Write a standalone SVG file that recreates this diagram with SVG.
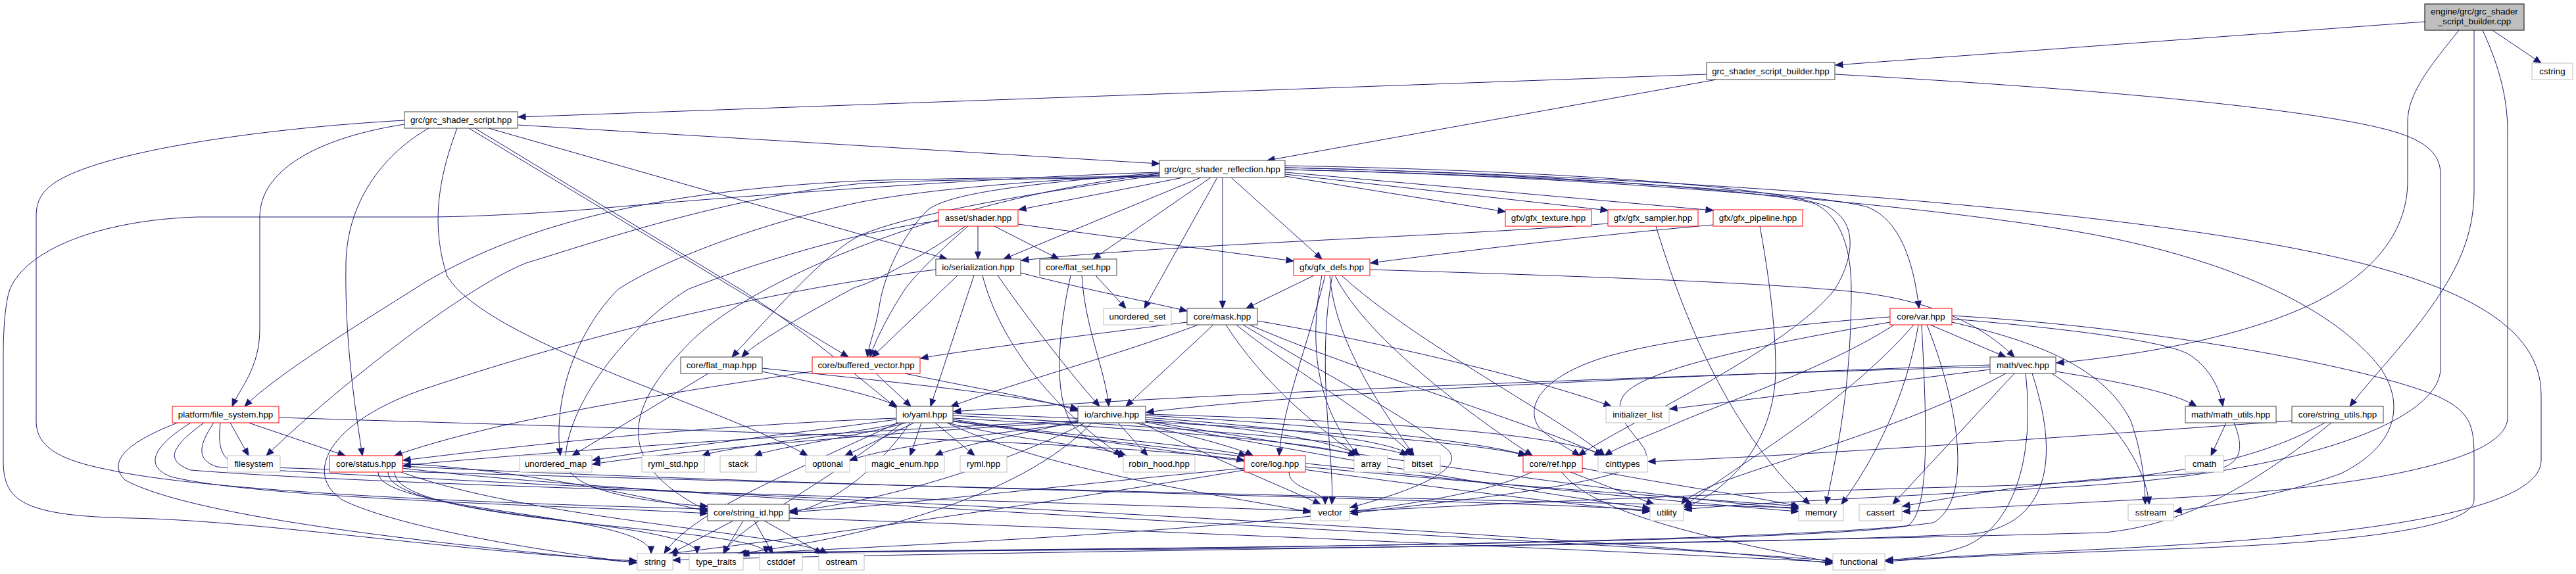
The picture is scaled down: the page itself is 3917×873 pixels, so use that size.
<svg xmlns="http://www.w3.org/2000/svg" width="3917" height="873" viewBox="0 0 3917 873">
<style>
.e{fill:none;stroke:#191970;stroke-width:1;marker-end:url(#ah)}
.nk{fill:#fff;stroke:#404040;stroke-width:1}
.nr{fill:#fff;stroke:#ff0000;stroke-width:1}
.ng{fill:#fff;stroke:#bfbfbf;stroke-width:1}
.nroot{fill:#bfbfbf;stroke:#000;stroke-width:1}
text{font-family:"Liberation Sans",Arial,sans-serif;font-size:13.33px;text-anchor:middle;fill:#000}
</style>
<defs>
<marker id="ah" markerUnits="userSpaceOnUse" markerWidth="12" markerHeight="10" refX="11" refY="5" orient="auto" overflow="visible"><path d="M0,0.5 L11,5 L0,9.5 z" fill="#191970" stroke="#191970" stroke-width="1"/></marker>
</defs>
<rect width="3917" height="873" fill="#fff"/>
<g id="edges">
<path class="e" d="M3687,33 L2791,99"/>
<path class="e" d="M3790,46 L3864,96"/>
<path class="e" d="M3739,46 C3700,95 3661,140 3661,185 L3661,275 C3661,360 3600,420 3520,460 C3420,510 3260,540 3127,552"/>
<path class="e" d="M3762,46 L3762,290 C3762,360 3735,410 3705,455 C3665,515 3610,570 3573,618"/>
<path class="e" d="M3775,46 C3795,90 3813,140 3813,200 L3813,635 C3813,700 3600,745 3250,760 C3100,768 2960,775 2893,778"/>
<path class="e" d="M2595,113 L788,178"/>
<path class="e" d="M2610,121 L1927,244"/>
<path class="e" d="M2790,113 C3100,130 3500,160 3640,200 C3690,215 3711,235 3711,265 L3711,560 C3711,640 3500,720 3150,740 C2900,755 2650,765 2561,775"/>
<path class="e" d="M787,190 L1763,249"/>
<path class="e" d="M615,189 C480,210 395,260 395,330 L395,500 C395,560 365,590 353,618"/>
<path class="e" d="M652,195 C590,230 528,300 526,400 C524,520 540,620 551,693"/>
<path class="e" d="M743,195 L1440,394"/>
<path class="e" d="M713,195 L1290,543"/>
<path class="e" d="M695,195 C675,250 650,330 680,420 C740,520 1100,620 1228,693"/>
<path class="e" d="M722,195 L1126,440 C1220,500 1300,570 1363,620"/>
<path class="e" d="M615,183 C400,195 150,230 80,280 C60,295 55,310 55,330 L55,640 C55,680 90,700 168,715 C300,745 700,765 1076,774"/>
<path class="e" d="M1799,270 L1549,319"/>
<path class="e" d="M1954,268 L2289,322"/>
<path class="e" d="M1954,265 L2445,320"/>
<path class="e" d="M1954,262 L2605,320"/>
<path class="e" d="M1826,270 L1526,394"/>
<path class="e" d="M1841,270 L1662,394"/>
<path class="e" d="M1872,270 L2010,394"/>
<path class="e" d="M1859,270 L1859,469"/>
<path class="e" d="M1954,258 C2300,265 2750,290 2840,315 C2890,335 2910,400 2918,469"/>
<path class="e" d="M1954,255 C2300,262 2700,290 2760,310 C2800,330 2815,380 2815,440 C2815,600 2790,700 2777,767"/>
<path class="e" d="M1954,252 C2300,258 2700,280 2780,315 C2830,340 2815,400 2790,440 C2720,530 2480,640 2400,693"/>
<path class="e" d="M1851,270 L1740,469"/>
<path class="e" d="M1763,266 C1600,290 1400,320 1310,357 C1260,380 1180,470 1113,543"/>
<path class="e" d="M1763,263 C1550,280 1440,295 1410,320 C1370,360 1345,420 1338,460 C1332,500 1322,520 1319,543"/>
<path class="e" d="M1763,268 C1550,270 1400,272 1310,275 C1000,290 800,340 650,427 C550,490 420,570 372,618"/>
<path class="e" d="M1763,270 C1550,272 1400,274 1310,279 C1100,300 900,370 800,400 C700,440 500,600 405,693"/>
<path class="e" d="M1763,262 C1500,270 1100,300 900,318 C800,326 700,330 650,330 L300,330 C150,335 40,380 15,440 C8,460 5,500 5,540 L5,700 C5,760 30,785 200,788 C400,792 700,840 968,853"/>
<path class="e" d="M1763,266 C1550,275 1400,290 1310,307 C1150,340 1000,400 940,440 C880,500 840,600 852,693"/>
<path class="e" d="M1954,258 C2500,270 3000,320 3200,360 C3400,400 3550,470 3620,560 C3660,620 3640,680 3560,720 C3450,760 3350,770 3306,778"/>
<path class="e" d="M1954,255 C2600,270 3200,320 3500,380 C3700,420 3864,480 3864,600 L3864,700 C3864,790 3500,820 3200,835 C3050,842 2950,848 2867,852"/>
<path class="e" d="M1763,264 C1450,300 1150,420 1050,520 C960,610 920,700 1076,777"/>
<path class="e" d="M1487,344 L1487,394"/>
<path class="e" d="M1512,344 L1610,394"/>
<path class="e" d="M1548,341 L1967,397"/>
<path class="e" d="M1468,344 C1420,380 1330,430 1300,437 C1220,480 1150,520 1128,543"/>
<path class="e" d="M1472,344 C1430,380 1390,420 1376,440 C1350,480 1330,520 1323,543"/>
<path class="e" d="M1427,336 C1350,345 1200,380 1046,440 C950,500 860,620 860,700 C860,750 1000,765 1076,770"/>
<path class="e" d="M1552,415 C1650,440 1750,460 1805,473"/>
<path class="e" d="M1481,419 L1415,618"/>
<path class="e" d="M1517,419 C1560,480 1620,560 1672,618"/>
<path class="e" d="M1456,419 L1326,543"/>
<path class="e" d="M1494,419 C1520,520 1600,620 1705,693"/>
<path class="e" d="M1423,410 C1100,450 800,540 650,590 C500,640 460,720 520,760 C600,800 800,835 968,856"/>
<path class="e" d="M1666,419 L1712,469"/>
<path class="e" d="M1645,419 C1650,500 1680,560 1686,618"/>
<path class="e" d="M1628,419 C1610,500 1600,600 1630,645 C1660,680 1695,690 1712,693"/>
<path class="e" d="M1998,419 L1895,469"/>
<path class="e" d="M2083,410 C2400,420 2700,430 2830,445 C2950,460 3020,500 3063,543"/>
<path class="e" d="M2010,419 C1990,520 2000,620 2066,693"/>
<path class="e" d="M2022,419 C2030,520 2100,620 2150,693"/>
<path class="e" d="M2030,419 C2080,520 2250,640 2330,693"/>
<path class="e" d="M2040,419 C2150,520 2380,640 2440,693"/>
<path class="e" d="M2026,419 C2000,560 2030,700 2025,767"/>
<path class="e" d="M2015,419 C1990,520 1950,620 1945,693"/>
<path class="e" d="M2445,340 C2200,360 1800,370 1553,396"/>
<path class="e" d="M2518,344 C2550,450 2620,650 2752,767"/>
<path class="e" d="M2605,342 C2400,360 2200,385 2084,400"/>
<path class="e" d="M2676,344 C2690,420 2700,500 2700,560 C2700,680 2620,750 2561,772"/>
<path class="e" d="M1805,490 C1650,510 1450,535 1400,545"/>
<path class="e" d="M1822,494 C1700,540 1550,580 1446,618"/>
<path class="e" d="M1845,494 L1712,618"/>
<path class="e" d="M1912,488 C2100,520 2350,580 2450,618"/>
<path class="e" d="M1864,494 C1920,580 1990,640 2064,693"/>
<path class="e" d="M1880,494 C1960,560 2100,640 2148,693"/>
<path class="e" d="M1900,494 C2050,560 2350,650 2436,693"/>
<path class="e" d="M1890,494 C2000,560 2150,640 2200,683 C2225,705 2190,735 2053,772"/>
<path class="e" d="M2935,494 L3050,543"/>
<path class="e" d="M2968,485 C3150,500 3300,520 3330,540 C3360,560 3375,590 3380,618"/>
<path class="e" d="M2874,482 C2700,495 2500,520 2420,550 C2340,580 2320,620 2340,650 C2360,670 2390,685 2402,693"/>
<path class="e" d="M2874,490 C2700,520 2500,560 2470,600 C2440,640 2520,680 2500,700 C2450,740 2200,762 2053,781"/>
<path class="e" d="M2880,494 C2780,560 2600,620 2540,648 C2500,665 2460,680 2440,693"/>
<path class="e" d="M2917,494 C2900,600 2850,700 2800,767"/>
<path class="e" d="M2922,494 C2930,650 2935,780 2900,800 C2700,830 1500,835 1016,842"/>
<path class="e" d="M2930,494 C2980,620 3000,760 2940,795 C2700,830 1500,836 1122,842"/>
<path class="e" d="M2910,494 C2800,620 2650,700 2561,770"/>
<path class="e" d="M2968,490 C3100,520 3200,560 3240,640 C3258,690 3262,740 3262,767"/>
<path class="e" d="M2968,480 C3300,500 3600,560 3700,600 C3760,625 3762,650 3762,700 L3762,760 C3762,800 3600,825 3300,835 C3100,842 2950,848 2867,854"/>
<path class="e" d="M1077,568 L870,693"/>
<path class="e" d="M1159,560 C1350,580 1550,600 1639,622"/>
<path class="e" d="M1159,565 C1250,585 1330,600 1364,618"/>
<path class="e" d="M1332,568 L1385,618"/>
<path class="e" d="M1376,568 C1480,590 1600,610 1639,625"/>
<path class="e" d="M1235,565 C1000,600 750,640 600,693"/>
<path class="e" d="M3126,565 C3250,585 3310,600 3340,618"/>
<path class="e" d="M3026,555 C2600,570 2000,595 1743,627"/>
<path class="e" d="M3026,558 C2500,572 1800,600 1450,626"/>
<path class="e" d="M3026,562 C2800,590 2600,615 2539,622"/>
<path class="e" d="M3063,568 L2878,767"/>
<path class="e" d="M3120,568 C3200,620 3262,700 3268,767"/>
<path class="e" d="M3080,568 C3095,700 3060,800 2990,830 C2950,845 2900,850 2867,852"/>
<path class="e" d="M3090,568 C3140,720 3100,800 3000,812 C2500,835 1500,835 1125,842"/>
<path class="e" d="M3050,568 C2900,650 2700,700 2600,740 C2575,752 2562,760 2557,767"/>
<path class="e" d="M350,643 L378,693"/>
<path class="e" d="M378,643 L525,693"/>
<path class="e" d="M270,643 C200,670 160,700 190,730 C300,790 700,830 968,856"/>
<path class="e" d="M290,643 C230,680 220,710 260,725 C400,760 900,770 1076,781"/>
<path class="e" d="M310,643 C260,680 250,700 290,715 C600,740 1500,760 1993,777"/>
<path class="e" d="M325,643 C300,680 300,700 330,710 C800,740 2300,800 2787,857"/>
<path class="e" d="M335,643 C330,690 340,705 380,710 C1000,730 2200,760 2735,772"/>
<path class="e" d="M424,635 C900,650 1700,670 1892,700"/>
<path class="e" d="M1363,636 C1000,650 700,690 613,700"/>
<path class="e" d="M1363,638 C1200,660 950,690 901,700"/>
<path class="e" d="M1370,643 C1300,660 1100,680 1068,693"/>
<path class="e" d="M1378,643 C1300,665 1180,680 1147,693"/>
<path class="e" d="M1390,643 L1285,693"/>
<path class="e" d="M1401,643 L1384,693"/>
<path class="e" d="M1422,643 L1482,693"/>
<path class="e" d="M1440,643 C1550,670 1680,680 1712,693"/>
<path class="e" d="M1449,640 C1600,660 1850,680 1895,693"/>
<path class="e" d="M1449,636 C1700,650 2000,670 2062,693"/>
<path class="e" d="M1449,632 C1700,645 2100,670 2140,693"/>
<path class="e" d="M1449,629 C1800,640 2250,670 2320,693"/>
<path class="e" d="M1384,643 C1330,720 1260,770 1201,780"/>
<path class="e" d="M1440,643 C1600,720 1900,760 1993,779"/>
<path class="e" d="M1365,643 C1200,720 1050,780 1010,842"/>
<path class="e" d="M1372,643 C1250,740 1120,800 1100,842"/>
<path class="e" d="M1449,641 C1900,700 2500,760 2735,778"/>
<path class="e" d="M1449,638 C1800,690 2300,760 2509,778"/>
<path class="e" d="M1639,640 C1200,660 800,690 613,708"/>
<path class="e" d="M1639,642 C1300,660 1000,690 901,706"/>
<path class="e" d="M1645,643 C1500,660 1350,680 1292,700"/>
<path class="e" d="M1700,643 L1745,693"/>
<path class="e" d="M1725,643 C1800,660 1880,680 1905,693"/>
<path class="e" d="M1742,638 C1900,650 2030,670 2068,693"/>
<path class="e" d="M1742,635 C1950,650 2120,670 2146,693"/>
<path class="e" d="M1742,632 C2000,645 2250,670 2322,693"/>
<path class="e" d="M1742,630 C2100,640 2380,660 2438,693"/>
<path class="e" d="M1650,643 C1500,720 1300,770 1201,777"/>
<path class="e" d="M1735,643 C1850,700 1950,740 2008,767"/>
<path class="e" d="M1742,640 C2100,700 2550,760 2735,774"/>
<path class="e" d="M1660,643 C1550,760 1300,820 1123,842"/>
<path class="e" d="M1742,642 C2100,710 2400,760 2509,773"/>
<path class="e" d="M1639,641 C1550,660 1450,680 1422,693"/>
<path class="e" d="M612,705 C800,715 1000,760 1076,778"/>
<path class="e" d="M575,718 C575,780 990,780 990,842"/>
<path class="e" d="M590,718 C590,790 1060,790 1060,842"/>
<path class="e" d="M600,718 C600,800 1165,800 1165,842"/>
<path class="e" d="M605,716 C800,790 1200,810 1258,842"/>
<path class="e" d="M612,712 C1000,760 2400,820 2787,853"/>
<path class="e" d="M612,709 C1200,740 2300,760 2509,776"/>
<path class="e" d="M1960,718 C1960,745 2015,745 2015,767"/>
<path class="e" d="M1892,712 C1600,740 1350,770 1201,779"/>
<path class="e" d="M1892,715 C1500,780 1200,820 1018,842"/>
<path class="e" d="M1985,710 C2300,740 2600,760 2735,770"/>
<path class="e" d="M2329,718 C2200,780 1800,810 1128,842"/>
<path class="e" d="M2375,718 C2420,780 2600,820 2787,855"/>
<path class="e" d="M2388,718 L2515,767"/>
<path class="e" d="M2406,712 C2550,740 2700,760 2736,771"/>
<path class="e" d="M1115,792 L1020,842"/>
<path class="e" d="M1130,792 L1100,842"/>
<path class="e" d="M1147,792 L1175,842"/>
<path class="e" d="M1162,792 L1250,842"/>
<path class="e" d="M1200,788 C1600,800 2500,840 2787,855"/>
<path class="e" d="M3485,640 C3200,660 2800,690 2506,702"/>
<path class="e" d="M3535,643 C3400,720 3200,735 3000,740 C2600,750 2200,770 2053,778"/>
<path class="e" d="M3545,643 C3400,760 3300,800 3200,810 C2500,830 1400,840 1023,852"/>
<path class="e" d="M3385,643 L3362,693"/>
<path class="e" d="M3397,643 C3420,700 3400,720 3300,722 C3100,730 2950,760 2893,770"/>
</g>
<g id="n_engine"><rect class="nroot" x="3687" y="6" width="151" height="40"/><text x="3762.5" y="22">engine/grc/grc_shader</text><text x="3762.5" y="37">_script_builder.cpp</text></g>
<g id="n_builder"><rect class="nk" x="2595" y="95" width="195" height="26"/><text x="2692.5" y="112.5">grc_shader_script_builder.hpp</text></g>
<g id="n_cstring"><rect class="ng" x="3850" y="96" width="62" height="25"/><text x="3881" y="113">cstring</text></g>
<g id="n_gss"><rect class="nk" x="615" y="170" width="172" height="25"/><text x="701" y="187">grc/grc_shader_script.hpp</text></g>
<g id="n_refl"><rect class="nk" x="1763" y="244" width="191" height="26"/><text x="1858.5" y="261.5">grc/grc_shader_reflection.hpp</text></g>
<g id="n_shader"><rect class="nr" x="1427" y="319" width="121" height="25"/><text x="1487.5" y="336">asset/shader.hpp</text></g>
<g id="n_texture"><rect class="nr" x="2289" y="319" width="131" height="25"/><text x="2354.5" y="336">gfx/gfx_texture.hpp</text></g>
<g id="n_sampler"><rect class="nr" x="2445" y="319" width="137" height="25"/><text x="2513.5" y="336">gfx/gfx_sampler.hpp</text></g>
<g id="n_pipeline"><rect class="nr" x="2605" y="319" width="136" height="25"/><text x="2673" y="336">gfx/gfx_pipeline.hpp</text></g>
<g id="n_ser"><rect class="nk" x="1423" y="394" width="129" height="25"/><text x="1487.5" y="411">io/serialization.hpp</text></g>
<g id="n_flatset"><rect class="nk" x="1581" y="394" width="117" height="25"/><text x="1639.5" y="411">core/flat_set.hpp</text></g>
<g id="n_gfxdefs"><rect class="nr" x="1967" y="394" width="116" height="25"/><text x="2025" y="411">gfx/gfx_defs.hpp</text></g>
<g id="n_uset"><rect class="ng" x="1678" y="469" width="103" height="25"/><text x="1729.5" y="486">unordered_set</text></g>
<g id="n_mask"><rect class="nk" x="1805" y="469" width="107" height="25"/><text x="1858.5" y="486">core/mask.hpp</text></g>
<g id="n_var"><rect class="nr" x="2874" y="469" width="94" height="25"/><text x="2921" y="486">core/var.hpp</text></g>
<g id="n_flatmap"><rect class="nk" x="1035" y="543" width="124" height="25"/><text x="1097" y="560">core/flat_map.hpp</text></g>
<g id="n_bvec"><rect class="nr" x="1235" y="543" width="164" height="25"/><text x="1317" y="560">core/buffered_vector.hpp</text></g>
<g id="n_vec"><rect class="nk" x="3026" y="543" width="100" height="25"/><text x="3076" y="560">math/vec.hpp</text></g>
<g id="n_fs"><rect class="nr" x="262" y="618" width="162" height="25"/><text x="343" y="635">platform/file_system.hpp</text></g>
<g id="n_yaml"><rect class="nk" x="1363" y="618" width="86" height="25"/><text x="1406" y="635">io/yaml.hpp</text></g>
<g id="n_archive"><rect class="nk" x="1639" y="618" width="103" height="25"/><text x="1690.5" y="635">io/archive.hpp</text></g>
<g id="n_initl"><rect class="ng" x="2442" y="618" width="96" height="25"/><text x="2490" y="635">initializer_list</text></g>
<g id="n_mutils"><rect class="nk" x="3323" y="618" width="138" height="25"/><text x="3392" y="635">math/math_utils.hpp</text></g>
<g id="n_sutils"><rect class="nk" x="3485" y="618" width="139" height="25"/><text x="3554.5" y="635">core/string_utils.hpp</text></g>
<g id="n_filesystem"><rect class="ng" x="346" y="693" width="80" height="25"/><text x="386" y="710">filesystem</text></g>
<g id="n_status"><rect class="nr" x="501" y="693" width="111" height="25"/><text x="556.5" y="710">core/status.hpp</text></g>
<g id="n_umap"><rect class="ng" x="790" y="693" width="110" height="25"/><text x="845" y="710">unordered_map</text></g>
<g id="n_rymlstd"><rect class="ng" x="976" y="693" width="95" height="25"/><text x="1023.5" y="710">ryml_std.hpp</text></g>
<g id="n_stack"><rect class="ng" x="1095" y="693" width="55" height="25"/><text x="1122.5" y="710">stack</text></g>
<g id="n_optional"><rect class="ng" x="1225" y="693" width="67" height="25"/><text x="1258.5" y="710">optional</text></g>
<g id="n_magic"><rect class="ng" x="1316" y="693" width="120" height="25"/><text x="1376" y="710">magic_enum.hpp</text></g>
<g id="n_ryml"><rect class="ng" x="1460" y="693" width="71" height="25"/><text x="1495.5" y="710">ryml.hpp</text></g>
<g id="n_robin"><rect class="ng" x="1708" y="693" width="109" height="25"/><text x="1762.5" y="710">robin_hood.hpp</text></g>
<g id="n_log"><rect class="nr" x="1892" y="693" width="93" height="25"/><text x="1938.5" y="710">core/log.hpp</text></g>
<g id="n_array"><rect class="ng" x="2059" y="693" width="51" height="25"/><text x="2084.5" y="710">array</text></g>
<g id="n_bitset"><rect class="ng" x="2135" y="693" width="55" height="25"/><text x="2162.5" y="710">bitset</text></g>
<g id="n_ref"><rect class="nr" x="2316" y="693" width="90" height="25"/><text x="2361" y="710">core/ref.hpp</text></g>
<g id="n_cint"><rect class="ng" x="2430" y="693" width="75" height="25"/><text x="2467.5" y="710">cinttypes</text></g>
<g id="n_cmath"><rect class="ng" x="3323" y="693" width="58" height="25"/><text x="3352" y="710">cmath</text></g>
<g id="n_sid"><rect class="nk" x="1076" y="767" width="124" height="25"/><text x="1138" y="784">core/string_id.hpp</text></g>
<g id="n_vector"><rect class="ng" x="1993" y="767" width="59" height="25"/><text x="2022.5" y="784">vector</text></g>
<g id="n_memory"><rect class="ng" x="2735" y="767" width="68" height="25"/><text x="2769" y="784">memory</text></g>
<g id="n_cassert"><rect class="ng" x="2827" y="767" width="65" height="25"/><text x="2859.5" y="784">cassert</text></g>
<g id="n_utility"><rect class="ng" x="2509" y="767" width="51" height="25"/><text x="2534.5" y="784">utility</text></g>
<g id="n_sstream"><rect class="ng" x="3236" y="767" width="69" height="25"/><text x="3270.5" y="784">sstream</text></g>
<g id="n_string"><rect class="ng" x="969" y="842" width="54" height="25"/><text x="996" y="859">string</text></g>
<g id="n_ttraits"><rect class="ng" x="1048" y="842" width="82" height="25"/><text x="1089" y="859">type_traits</text></g>
<g id="n_cstddef"><rect class="ng" x="1155" y="842" width="65" height="25"/><text x="1187.5" y="859">cstddef</text></g>
<g id="n_ostream"><rect class="ng" x="1245" y="842" width="69" height="25"/><text x="1279.5" y="859">ostream</text></g>
<g id="n_functional"><rect class="ng" x="2787" y="842" width="79" height="25"/><text x="2826.5" y="859">functional</text></g>
</svg>
